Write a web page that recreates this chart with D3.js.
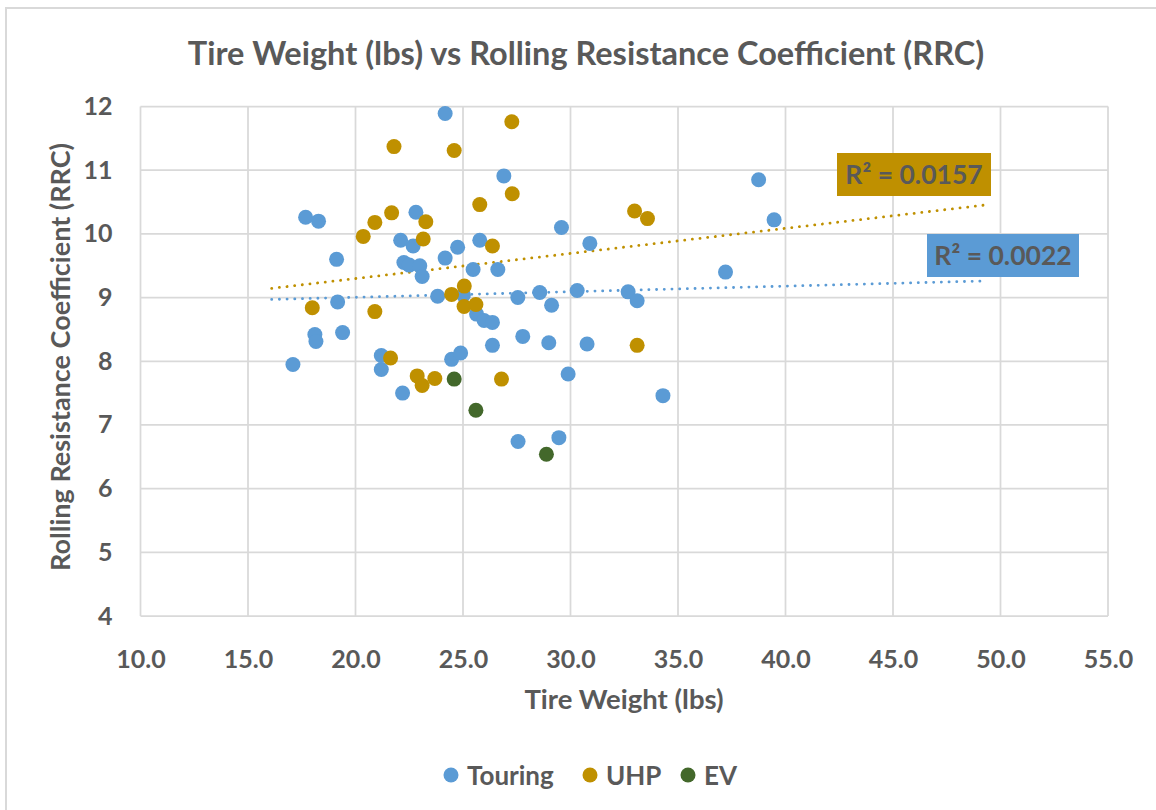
<!DOCTYPE html>
<html>
<head>
<meta charset="utf-8">
<script src="https://cdn.jsdelivr.net/npm/d3@7/dist/d3.min.js"></script>
<style>
  html, body { margin: 0; padding: 0; background: #fff; }
  svg { display: block; }
  text { font-family: Lato, "Open Sans", sans-serif; font-weight: 700; fill: #595959; }
</style>
</head>
<body>
<svg id="chart" width="1156" height="810"></svg>
<script>
// Tire weight (lbs) and rolling resistance coefficient per tire category
const touringWeight = [17.09, 17.68, 18.28, 19.12, 19.17, 18.11, 18.16, 19.40, 21.20, 21.20,
  22.19, 24.17, 26.90, 29.58, 30.90, 22.81, 22.10, 22.68, 24.75, 25.78,
  24.17, 22.25, 22.50, 22.99, 23.10, 25.47, 26.62, 30.31, 28.57, 23.82,
  25.02, 25.63, 25.98, 26.37, 27.55, 29.12, 26.37, 27.78, 28.99, 30.77,
  24.47, 24.89, 29.89, 27.56, 29.46, 32.68, 33.10, 34.30, 38.75, 39.47, 37.21];
const touringRRC = [7.95, 10.26, 10.20, 9.60, 8.93, 8.42, 8.31, 8.45, 8.09, 7.87,
  7.50, 11.89, 10.91, 10.10, 9.85, 10.34, 9.90, 9.81, 9.79, 9.90,
  9.62, 9.55, 9.51, 9.50, 9.33, 9.44, 9.44, 9.11, 9.08, 9.02,
  9.04, 8.74, 8.64, 8.61, 9.00, 8.88, 8.25, 8.39, 8.29, 8.27,
  8.03, 8.13, 7.80, 6.74, 6.80, 9.09, 8.95, 7.46, 10.85, 10.22, 9.40];

const uhpWeight = [21.79, 27.27, 24.59, 27.29, 25.78, 20.90, 21.68, 23.27, 23.15, 20.36,
  26.37, 32.98, 33.58, 24.47, 25.06, 25.05, 25.60, 17.99, 20.90, 21.63,
  22.87, 23.10, 23.69, 26.79, 33.10];
const uhpRRC = [11.37, 11.76, 11.31, 10.63, 10.46, 10.18, 10.33, 10.19, 9.92, 9.96,
  9.81, 10.36, 10.24, 9.05, 9.18, 8.86, 8.89, 8.84, 8.78, 8.05,
  7.77, 7.62, 7.73, 7.72, 8.25];

const evWeight = [24.59, 25.60, 28.88];
const evRRC = [7.72, 7.23, 6.54];

// Linear trendlines (start/end along the weight axis) and their R² values
const trendWeight = [16.1, 49.2];
const touringTrendRRC = [8.97, 9.26];
const uhpTrendRRC = [9.145, 10.45];
const touringR2 = "0.0022";
const uhpR2 = "0.0157";

const xTicks = [10, 15, 20, 25, 30, 35, 40, 45, 50, 55];
const yTicks = [4, 5, 6, 7, 8, 9, 10, 11, 12];
const seriesNames = ["Touring", "UHP", "EV"];
const seriesColors = ["#5B9BD5", "#BF9000", "#43682B"];

const svg = d3.select("#chart");

// chart frame
svg.append("rect").attr("x", 6).attr("y", 8).attr("width", 1170).attr("height", 820)
  .attr("fill", "#fff").attr("stroke", "#d9d9d9").attr("stroke-width", 2);

const x = d3.scaleLinear().domain([10, 55]).range([140.5, 1108]);
const y = d3.scaleLinear().domain([4, 12]).range([616, 106.5]);

// gridlines
const grid = svg.append("g");
grid.selectAll("line.v").data(xTicks).join("line")
  .attr("x1", d => x(d)).attr("x2", d => x(d))
  .attr("y1", y(4)).attr("y2", y(12))
  .attr("stroke", "#d9d9d9").attr("stroke-width", 1.75);
grid.selectAll("line.h").data(yTicks).join("line")
  .attr("x1", x(10)).attr("x2", x(55))
  .attr("y1", d => y(d)).attr("y2", d => y(d))
  .attr("stroke", "#d9d9d9").attr("stroke-width", 1.75);

// axes (labels only; lines come from the grid)
const xAxis = svg.append("g").attr("transform", `translate(0,${y(4)})`)
  .call(d3.axisBottom(x).tickValues(xTicks).tickFormat(d3.format(".1f")).tickSize(0).tickPadding(34));
const yAxis = svg.append("g").attr("transform", `translate(${x(10)},0)`)
  .call(d3.axisLeft(y).tickValues(yTicks).tickFormat(d3.format("d")).tickSize(0).tickPadding(28));
[xAxis, yAxis].forEach(a => {
  a.select(".domain").remove();
  a.selectAll("text").attr("font-size", 25).attr("fill", "#595959")
    .attr("font-family", "Lato, sans-serif").attr("font-weight", 700);
});

// titles
svg.append("text").attr("x", 586).attr("y", 65).attr("text-anchor", "middle")
  .attr("font-size", 32.5).text("Tire Weight (lbs) vs Rolling Resistance Coefficient (RRC)");
svg.append("text").attr("x", 624).attr("y", 709).attr("text-anchor", "middle")
  .attr("font-size", 27.5).text("Tire Weight (lbs)");
svg.append("text").attr("transform", `translate(70,357) rotate(-90)`).attr("text-anchor", "middle")
  .attr("font-size", 27).text("Rolling Resistance Coefficient (RRC)");

// trendlines
const trendLine = d3.line().x(d => x(d[0])).y(d => y(d[1]));
const trends = [
  { vals: touringTrendRRC, color: seriesColors[0] },
  { vals: uhpTrendRRC, color: seriesColors[1] }
];
svg.append("g").selectAll("path").data(trends).join("path")
  .attr("d", t => trendLine(trendWeight.map((w, i) => [w, t.vals[i]])))
  .attr("fill", "none").attr("stroke", t => t.color)
  .attr("stroke-width", 2.8).attr("stroke-linecap", "round")
  .attr("stroke-dasharray", "0.1 7.6");

// points
const series = [
  { w: touringWeight, r: touringRRC },
  { w: uhpWeight, r: uhpRRC },
  { w: evWeight, r: evRRC }
];
series.forEach((s, si) => {
  svg.append("g").selectAll("circle")
    .data(s.w.map((w, i) => [w, s.r[i]])).join("circle")
    .attr("cx", d => x(d[0])).attr("cy", d => y(d[1])).attr("r", 7.5)
    .attr("fill", seriesColors[si]);
});

// R² labels
const r2Labels = [
  { text: `R² = ${uhpR2}`, color: seriesColors[1], bx: 837, by: 153, bw: 154, bh: 43 },
  { text: `R² = ${touringR2}`, color: seriesColors[0], bx: 927, by: 234, bw: 152, bh: 43 }
];
r2Labels.forEach(l => {
  svg.append("rect").attr("x", l.bx).attr("y", l.by).attr("width", l.bw).attr("height", l.bh)
    .attr("fill", l.color);
  svg.append("text").attr("x", l.bx + l.bw / 2).attr("y", l.by + l.bh / 2 + 9.5)
    .attr("text-anchor", "middle").attr("font-size", 26.5).text(l.text);
});

// legend
const legendX = [451, 590, 688];
const legend = svg.append("g");
seriesNames.forEach((n, i) => {
  legend.append("circle").attr("cx", legendX[i]).attr("cy", 775).attr("r", 7.5).attr("fill", seriesColors[i]);
  legend.append("text").attr("x", legendX[i] + 16).attr("y", 784.5).attr("font-size", 26).text(n);
});
</script>
</body>
</html>
